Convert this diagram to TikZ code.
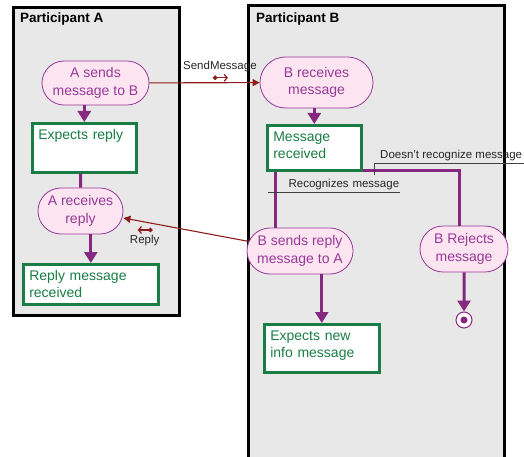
\documentclass[tikz,border=0pt]{standalone}
\usepackage{fontspec}
\setmainfont{Liberation Sans}
\usetikzlibrary{arrows.meta,shapes.misc,positioning}
\definecolor{lanegray}{HTML}{E8E8E8}
\definecolor{pinkfill}{HTML}{FCE4F1}
\definecolor{actpurple}{HTML}{983A98}
\definecolor{flowpurple}{HTML}{86287F}
\definecolor{boxgreen}{HTML}{1A7D45}
\definecolor{msgred}{HTML}{8E1E1E}
\begin{document}
\begin{tikzpicture}[x=1pt,y=-1pt,
  act/.style={rounded rectangle,draw=actpurple,line width=0.8pt,fill=pinkfill,text=actpurple,align=center,inner sep=2pt,font=\fontsize{14}{17.5}\selectfont},
  statebox/.style={rectangle,draw=boxgreen,line width=2.6pt,fill=white,text=boxgreen,align=left,anchor=north west,inner sep=6pt,text height=10pt,font=\fontsize{14}{17.5}\selectfont},
  flow/.style={draw=flowpurple,line width=3pt,-{Triangle[width=13pt,length=11pt]}},
  flowline/.style={draw=flowpurple,line width=3pt},
  msg/.style={draw=msgred,line width=1.1pt,-{Triangle[width=7pt,length=7pt]}},
  msgicon/.style={draw=msgred,line width=1.2pt,{Circle[length=4.5pt]}-{Straight Barb[length=3pt,width=7pt]}},
  guard/.style={font=\fontsize{11.5}{13}\selectfont,text=black!85,inner ysep=2pt},
  leader/.style={draw=black!75,line width=0.8pt},
  lane/.style={draw=black,line width=3pt,fill=lanegray},
  lanetitle/.style={font=\bfseries\fontsize{13.5}{16}\selectfont,anchor=west,inner sep=0pt}]
\useasboundingbox (0,0) rectangle (524,457);
% swimlanes
\draw[lane] (13.5,7.5) rectangle (179.5,315.5);
\draw[lane] (248.5,6) rectangle (504,470);
\node[lanetitle] (ta) at (20,19) {Participant A};
\node[lanetitle] (tb) at (256,19) {Participant B};
% participant A
\node[act,minimum width=111pt,minimum height=44pt] (asend) at (95.5,83) {A sends\\message to B};
\node[statebox,text width=92pt,text depth=27pt] (exp) at (31,122) {Expects reply};
\node[act,minimum width=89pt,minimum height=46pt] (arec) at (80.5,211) {A receives\\reply};
\node[statebox,text width=123pt,text depth=18pt] (rmr) at (22,263) {Reply message\\received};
% participant B
\node[act,minimum width=117pt,minimum height=51pt] (brec) at (316.5,82.5) {B receives\\message};
\node[statebox,text width=82pt,text depth=23pt] (mrc) at (266,124) {Message\\received};
\node[act,minimum width=110pt,minimum height=46pt] (bsend) at (300,251) {B sends reply\\message to A};
\node[act,minimum width=92pt,minimum height=46pt] (brej) at (464,249) {B Rejects\\message};
\node[statebox,text width=103pt,text depth=26pt] (eni) at (263,323) {Expects new\\info message};
\node[circle,draw=flowpurple,line width=1pt,fill=white,minimum size=16pt,inner sep=0pt] (fin) at (464,320) {};
\fill[flowpurple] (fin) circle (3.5pt);
% control flow
\draw[flow] (asend.south -| exp) -- (exp);
\draw[flowline] (exp.south -| arec) -- (arec);
\draw[flow] (arec.south -| rmr) -- (rmr);
\draw[flow] (brec.south -| mrc) -- (mrc);
\draw[flowline] ([xshift=9pt]mrc.south west) -- ([xshift=9pt]mrc.south west |- bsend.north);
\draw[flowline] ([yshift=1.5pt]mrc.south east) -| ([xshift=-5pt]brej.north);
\draw[flow] (bsend.south -| eni) -- (eni);
\draw[flow] (brej) -- (fin);
% guards
\node[guard,anchor=south west,text width=130pt,align=right,inner xsep=1pt] (rcg) at (268,192) {Recognizes message};
\draw[leader] (rcg.south west) -- (rcg.south east);
\node[guard,anchor=south west,inner xsep=6pt] (dnr) at (374,163) {Doesn't recognize message};
\draw[leader] (dnr.south west) -- (dnr.south east);
\draw[leader] (dnr.south west) -- ++(0,12);
% messages
\draw[msg] (asend) -- (brec) node[guard,pos=0.64,above=8pt] (smsg) {SendMessage};
\draw[msgicon] ([xshift=-7pt,yshift=-3pt]smsg.south) -- ++(15,0);
\draw[msg] (bsend) -- ([yshift=-7pt]arec.east) node[guard,pos=0.83,below=11pt] (rpl) {Reply};
\draw[msgicon] ([xshift=8pt,yshift=3pt]rpl.north) -- ++(-15,0);
\end{tikzpicture}
\end{document}
